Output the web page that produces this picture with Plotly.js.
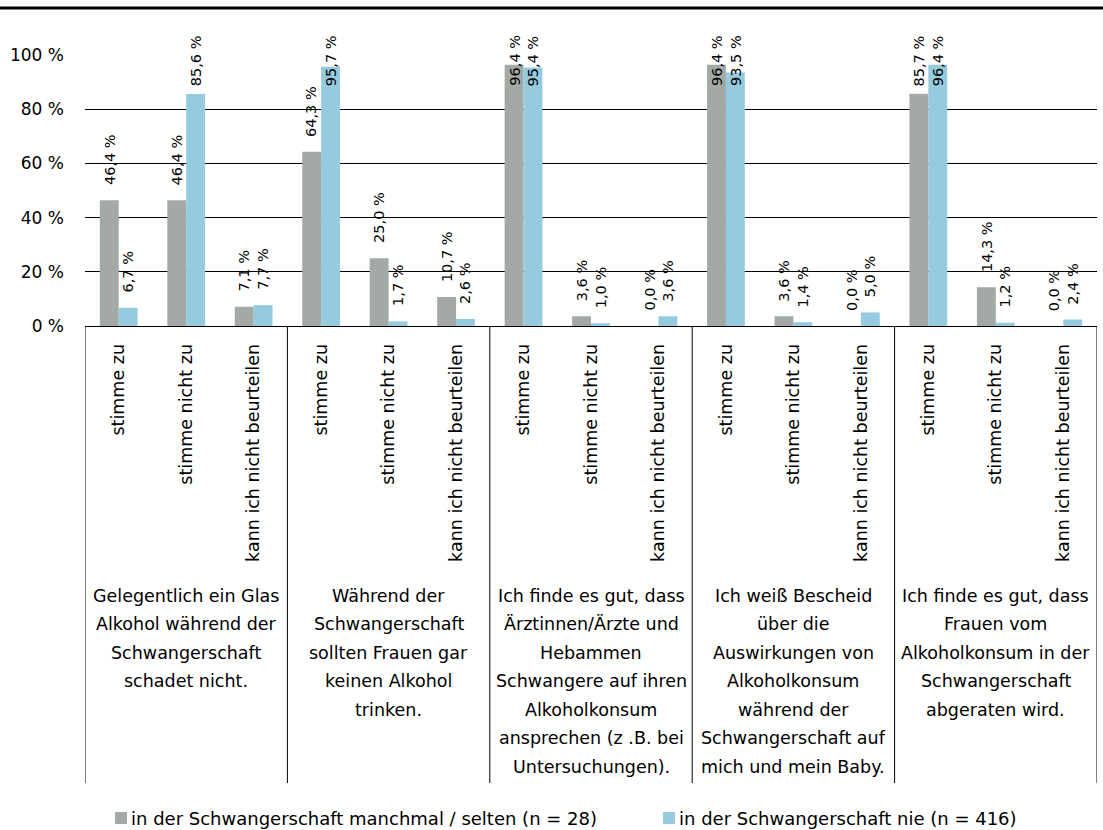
<!DOCTYPE html>
<html>
<head>
<meta charset="utf-8">
<script src="https://cdn.plot.ly/plotly-3.0.1.min.js"></script>
<style>
  html, body { margin: 0; padding: 0; background: #ffffff; }
  #chart { width: 1103px; height: 830px; }
</style>
</head>
<body>
<div id="chart"></div>
<script>
// Statements (group labels), each split into its printed lines
const statements = [
  ['Gelegentlich ein Glas', 'Alkohol während der', 'Schwangerschaft', 'schadet nicht.'],
  ['Während der', 'Schwangerschaft', 'sollten Frauen gar', 'keinen Alkohol', 'trinken.'],
  ['Ich finde es gut, dass', 'Ärztinnen/Ärzte und', 'Hebammen', 'Schwangere auf ihren', 'Alkoholkonsum', 'ansprechen (z .B. bei', 'Untersuchungen).'],
  ['Ich weiß Bescheid', 'über die', 'Auswirkungen von', 'Alkoholkonsum', 'während der', 'Schwangerschaft auf', 'mich und mein Baby.'],
  ['Ich finde es gut, dass', 'Frauen vom', 'Alkoholkonsum in der', 'Schwangerschaft', 'abgeraten wird.']
];
const answers = ['stimme zu', 'stimme nicht zu', 'kann ich nicht beurteilen'];

const seriesSelten = 'in der Schwangerschaft manchmal / selten (n = 28)';
const seriesNie = 'in der Schwangerschaft nie (n = 416)';

// Percentages per statement × answer
const valuesSelten = [46.4, 46.4, 7.1,  64.3, 25.0, 10.7,  96.4, 3.6, 0.0,  96.4, 3.6, 0.0,  85.7, 14.3, 0.0];
const valuesNie    = [6.7, 85.6, 7.7,   95.7, 1.7, 2.6,    95.4, 1.0, 3.6,  93.5, 1.4, 5.0,  96.4, 1.2, 2.4];

const yTicks = [0, 20, 40, 60, 80, 100];

// ---- derived layout helpers ----
const W = 1103, H = 830;
const M = { l: 85, r: 6, t: 55, b: 504 };
const plotW = W - M.l - M.r, plotH = H - M.t - M.b;
const px2paperX = px => (px - M.l) / plotW;
const px2paperY = py => (H - M.b - py) / plotH;

const FONT = 'DejaVu Sans, Verdana, sans-serif';
const colSelten = '#a3a9a5';
const colNie = '#96cadf';

const n = statements.length * answers.length;
const idx = Array.from({ length: n }, (_, i) => i);
const tickText = idx.map(i => answers[i % answers.length]);

const bargap = 0.44;
const halfBar = (1 - bargap) / 4; // centre offset of each bar in a pair

const fmt = v => v.toFixed(1).replace('.', ',') + ' %';
const labelCap = 83; // labels of very tall bars stay below the frame

const traces = [
  { type: 'bar', name: seriesSelten, x: idx, y: valuesSelten, marker: { color: colSelten }, hoverinfo: 'skip', showlegend: false },
  { type: 'bar', name: seriesNie, x: idx, y: valuesNie, marker: { color: colNie }, hoverinfo: 'skip', showlegend: false }
];

const annotations = [];
const shapes = [];

// value labels above bars
[[valuesSelten, -halfBar], [valuesNie, halfBar]].forEach(([vals, off]) => {
  vals.forEach((v, i) => {
    annotations.push({
      x: i + off, y: Math.min(v, labelCap), xref: 'x', yref: 'y',
      text: fmt(v), showarrow: false, textangle: -90,
      xanchor: 'center', yanchor: 'bottom', yshift: 13,
      font: { family: FONT, size: 14.5, color: '#000' }
    });
  });
});

// statement labels below the answer labels
const lineStart = 596, lineStep = 28.45;
statements.forEach((lines, g) => {
  lines.forEach((t, k) => {
    annotations.push({
      x: g * answers.length + 1, xref: 'x',
      y: px2paperY(lineStart + k * lineStep), yref: 'paper',
      text: t, showarrow: false, xanchor: 'center', yanchor: 'middle',
      font: { family: FONT, size: 17.5, color: '#000' }
    });
  });
});

// group separators
for (let g = 0; g <= statements.length; g++) {
  shapes.push({
    type: 'line', xref: 'x', yref: 'paper',
    x0: g * answers.length - 0.5, x1: g * answers.length - 0.5,
    y0: 0, y1: px2paperY(783),
    line: { color: '#000', width: 1 }
  });
}

// heavy rule across the top
shapes.push({
  type: 'line', xref: 'paper', yref: 'paper',
  x0: px2paperX(0), x1: px2paperX(W), y0: px2paperY(8), y1: px2paperY(8),
  line: { color: '#000', width: 3 }
});

// legend
[[seriesSelten, colSelten, 115], [seriesNie, colNie, 663]].forEach(([name, col, x]) => {
  shapes.push({
    type: 'rect', xref: 'paper', yref: 'paper',
    x0: px2paperX(x), x1: px2paperX(x + 12),
    y0: px2paperY(812), y1: px2paperY(824),
    fillcolor: col, line: { width: 0 }
  });
  annotations.push({
    x: px2paperX(x + 14), y: px2paperY(818), xref: 'paper', yref: 'paper',
    text: name, showarrow: false, xanchor: 'left', yanchor: 'middle',
    font: { family: FONT, size: 18, color: '#000' }
  });
});

const layout = {
  width: W, height: H,
  margin: M,
  paper_bgcolor: '#fff', plot_bgcolor: '#fff',
  barmode: 'group', bargap: bargap, bargroupgap: 0,
  showlegend: false,
  xaxis: {
    range: [-0.5, n - 0.5], tickmode: 'array', tickvals: idx, ticktext: tickText,
    tickangle: -90, ticks: '', showgrid: false, zeroline: false,
    showline: true, linecolor: '#000', linewidth: 1,
    ticklabelstandoff: 10,
    tickfont: { family: FONT, size: 17.5, color: '#000' },
    fixedrange: true
  },
  yaxis: {
    range: [0, 100], tickmode: 'array', tickvals: yTicks,
    ticktext: yTicks.map(v => v + ' %'),
    showgrid: true, gridcolor: '#000', gridwidth: 1,
    zeroline: false, showline: false, ticks: '',
    ticklabelstandoff: 20,
    tickfont: { family: FONT, size: 17, color: '#000' },
    fixedrange: true
  },
  annotations: annotations,
  shapes: shapes
};

Plotly.newPlot('chart', traces, layout, { displayModeBar: false, staticPlot: true });
</script>
</body>
</html>
